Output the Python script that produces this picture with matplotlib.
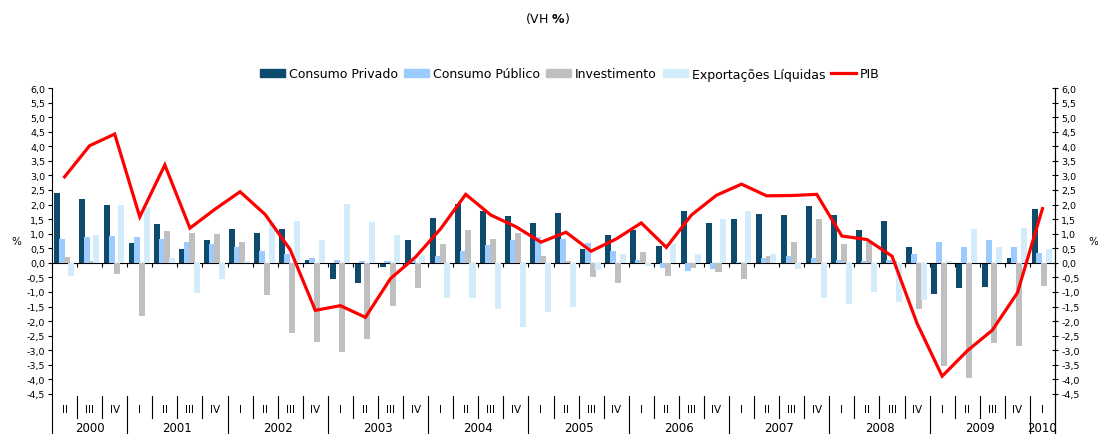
import matplotlib
matplotlib.use("Agg")
import matplotlib.pyplot as plt
import numpy as np
from matplotlib.patches import Patch
from matplotlib.lines import Line2D

# quarters 2000 II .. 2010 I
quarters = ["II", "III", "IV"] + ["I", "II", "III", "IV"] * 9 + ["I"]
years = ["2000", "2001", "2002", "2003", "2004", "2005", "2006", "2007", "2008", "2009", "2010"]
year_n = [3, 4, 4, 4, 4, 4, 4, 4, 4, 4, 1]

consumo_privado = [2.40, 2.18, 1.98, 0.69, 1.34, 0.48, 0.80, 1.15, 1.03, 1.15,
                   0.10, -0.55, -0.69, -0.13, 0.80, 1.53, 2.02, 1.79, 1.61, 1.35,
                   1.72, 0.46, 0.94, 1.13, 0.57, 1.79, 1.35, 1.49, 1.68, 1.65,
                   1.95, 1.64, 1.13, 1.45, 0.55, -1.08, -0.85, -0.82, 0.16, 1.84]
consumo_publico = [0.82, 0.87, 0.93, 0.87, 0.82, 0.73, 0.63, 0.53, 0.39, 0.29,
                   0.18, 0.10, 0.07, 0.07, 0.10, 0.25, 0.41, 0.60, 0.78, 0.87,
                   0.82, 0.69, 0.40, 0.09, -0.19, -0.29, -0.21, 0.02, 0.15, 0.22,
                   0.16, 0.09, 0.05, 0.09, 0.32, 0.73, 0.53, 0.79, 0.53, 0.33]
investimento = [0.19, 0.08, -0.40, -1.81, 1.09, 1.03, 0.98, 0.73, -1.09, -2.42,
                -2.73, -3.06, -2.62, -1.49, -0.88, 0.63, 1.13, 0.82, 1.03, 0.22,
                0.08, -0.48, -0.68, 0.38, -0.45, -0.19, -0.31, -0.54, 0.24, 0.71,
                1.51, 0.63, 0.70, 0.08, -1.60, -3.55, -3.94, -2.75, -2.85, -0.79]
exportacoes = [-0.46, 0.95, 1.98, 1.90, 0.18, -1.02, -0.54, 0.08, 1.38, 1.42,
               0.80, 2.02, 1.39, 0.96, 0.22, -1.20, -1.20, -1.58, -2.21, -1.68,
               -1.52, -0.23, 0.30, -0.11, 0.64, 0.32, 1.49, 1.79, 0.32, -0.21,
               -1.21, -1.41, -1.00, -1.35, -1.29, 0.05, 1.15, 0.55, 1.18, 0.47]
pib = [2.95, 4.02, 4.42, 1.58, 3.36, 1.19, 1.84, 2.44, 1.66, 0.45,
       -1.63, -1.47, -1.87, -0.54, 0.20, 1.17, 2.35, 1.64, 1.24, 0.71,
       1.05, 0.40, 0.82, 1.37, 0.53, 1.64, 2.32, 2.70, 2.30, 2.31,
       2.35, 0.92, 0.80, 0.23, -2.08, -3.89, -3.02, -2.31, -1.03, 1.86]

c_priv = "#0d4a6c"
c_pub = "#9ccbff"
c_inv = "#bfbfbf"
c_exp = "#d2ecfb"
c_pib = "#ff0000"

fig = plt.figure(figsize=(10.98, 4.35), dpi=100)
ax = fig.add_axes([52 / 1098, 0.0, 1003 / 1098, 346 / 435])

x = np.arange(len(quarters))
w = 0.24
series = [consumo_privado, consumo_publico, investimento, exportacoes]
cols = [c_priv, c_pub, c_inv, c_exp]
offs = [-0.31, -0.12, 0.08, 0.27]
for i, (s, c, o) in enumerate(zip(series, cols, offs)):
    ax.bar(x + o, s, width=w, color=c, zorder=2 + i, linewidth=0)

ax.plot(x, pib, color=c_pib, lw=2.3, zorder=10, solid_joinstyle="miter")

ax.set_xlim(-0.5, len(quarters) - 0.5)
ax.set_ylim(-5.874, 6.0)
yt = np.arange(-4.5, 6.01, 0.5)
ylab = [("%.1f" % v).replace(".", ",") for v in yt]
ax.set_yticks(yt)
ax.set_yticklabels(ylab, fontsize=6.8)
ax.tick_params(axis="y", direction="out", length=3, width=0.8, pad=2)

ax.spines["top"].set_visible(False)
ax.spines["bottom"].set_position(("data", 0))
ax.spines["bottom"].set_linewidth(0.8)
ax.spines["left"].set_linewidth(0.8)
ax.spines["right"].set_linewidth(0.8)
ax.set_xticks(np.arange(-0.5, len(quarters), 1.0))
ax.set_xticklabels([])
ax.tick_params(axis="x", direction="out", length=3, width=0.8)

ax2 = ax.twinx()
ax2.set_ylim(ax.get_ylim())
ax2.set_yticks(yt)
ax2.set_yticklabels(ylab, fontsize=6.8)
ax2.tick_params(axis="y", direction="inout", length=5, width=0.8, pad=2)
for sp in ["top", "bottom", "left"]:
    ax2.spines[sp].set_visible(False)
ax2.spines["right"].set_linewidth(0.8)

# category axis below the plot
for i, q in enumerate(quarters):
    ax.text(i, -5.0, q, ha="center", va="center", fontsize=7.5, clip_on=False)
start = 0
for y, n in zip(years, year_n):
    ax.text(start + (n - 1) / 2, -5.64, y, ha="center", va="center", fontsize=8.5, clip_on=False)
    for k in range(1, n):
        ax.plot([start + k - 0.5] * 2, [-4.57, -5.33], color="black", lw=0.8, clip_on=False)
    if start > 0:
        ax.plot([start - 0.5] * 2, [-4.57, -5.874], color="black", lw=0.8, clip_on=False)
    start += n

handles = [Patch(color=c_priv), Patch(color=c_pub), Patch(color=c_inv), Patch(color=c_exp),
           Line2D([], [], color=c_pib, lw=2.3)]
labels = ["Consumo Privado", "Consumo Público", "Investimento", "Exportações Líquidas", "PIB"]
fig.legend(handles, labels, loc="center", bbox_to_anchor=(570 / 1098, 1 - 75 / 435), ncol=5,
           frameon=False, fontsize=9, handlelength=2.0, handleheight=0.55,
           handletextpad=0.3, columnspacing=0.5, borderaxespad=0)

fig.text(548 / 1098, 1 - 19 / 435, r"(VH $\mathbf{\%}$)", ha="center", va="center", fontsize=9)
fig.text(16 / 1098, 1 - 242 / 435, "%", ha="center", va="center", fontsize=7.5)
fig.text(1093 / 1098, 1 - 242 / 435, "%", ha="center", va="center", fontsize=7.5)

fig.savefig("out.png", dpi=100)
